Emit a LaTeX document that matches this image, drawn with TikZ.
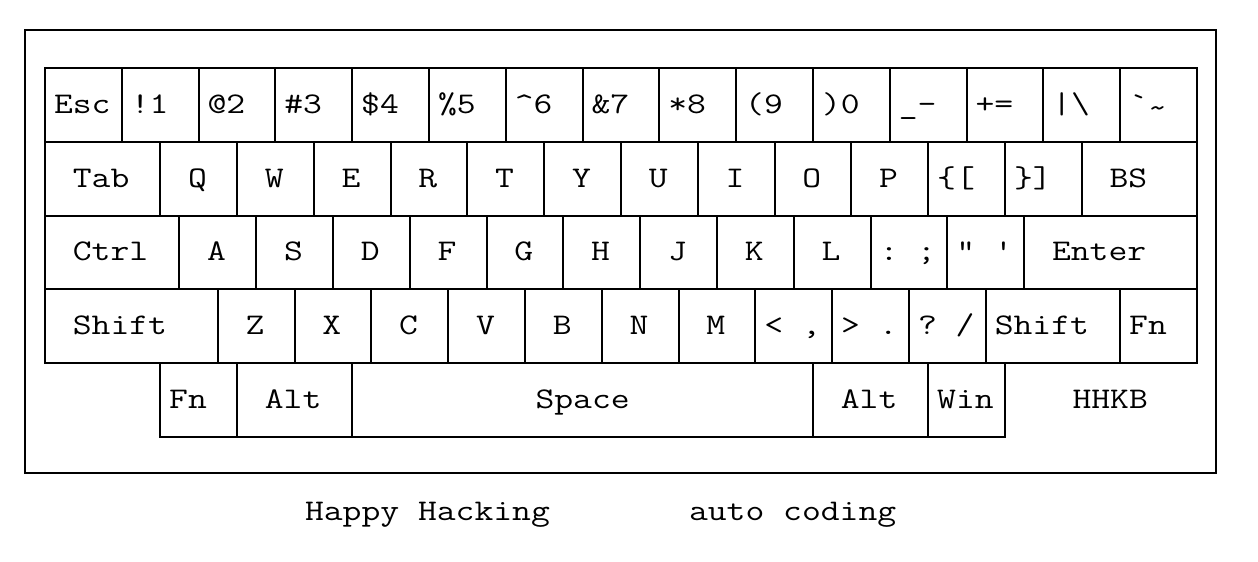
\documentclass[tikz,border=0pt]{standalone}
\usepackage{graphicx}
\usetikzlibrary{calc}
\newcommand\ks{\phantom{X}}
\newcommand\kt[1]{\scalebox{1.219}[1]{\fontsize{30pt}{36pt}\selectfont\ttfamily #1}}
\tikzset{
  keybox/.style={draw, line width=2pt, rectangle, anchor=north west, inner sep=0pt, outer sep=0pt, minimum height=73.8pt},
  keytext/.style={anchor=base west, inner sep=0pt, outer sep=0pt},
}
\newcommand\kk[5]{%
  \node[keybox, minimum width=#4pt] (#1) at (#2,#3) {};
  \node[keytext] (#1-t) at ($(#1.north west)+(9,45.3)$) {\kt{#5}};}
\begin{document}
\begin{tikzpicture}[x=1pt,y=-1pt]
\useasboundingbox (0,0) rectangle (1258,562);
\node[draw, line width=2pt, rectangle, anchor=north west, inner sep=0pt, outer sep=0pt, minimum width=1191pt, minimum height=443pt] (frame) at (25,30) {};
% row 1
\kk{esc}{45}{68}{76.8}{Esc}
\kk{k1}{121.8}{68}{76.8}{!1}
\kk{k2}{198.6}{68}{76.8}{@2}
\kk{k3}{275.4}{68}{76.8}{\#3}
\kk{k4}{352.2}{68}{76.8}{\$4}
\kk{k5}{429}{68}{76.8}{\%5}
\kk{k6}{505.8}{68}{76.8}{\textasciicircum 6}
\kk{k7}{582.6}{68}{76.8}{\&7}
\kk{k8}{659.4}{68}{76.8}{*8}
\kk{k9}{736.2}{68}{76.8}{(9}
\kk{k0}{813}{68}{76.8}{)0}
\kk{minus}{889.8}{68}{76.8}{\_-}
\kk{equal}{966.6}{68}{76.8}{+=}
\kk{bslash}{1043.4}{68}{76.8}{\textbar\textbackslash}
\kk{grave}{1120.2}{68}{76.8}{\textasciigrave\raisebox{-4pt}{\textasciitilde}}
% row 2
\kk{tab}{45}{141.8}{115.2}{\ks Tab}
\kk{q}{160.2}{141.8}{76.8}{\ks Q}
\kk{w}{237}{141.8}{76.8}{\ks W}
\kk{e}{313.8}{141.8}{76.8}{\ks E}
\kk{r}{390.6}{141.8}{76.8}{\ks R}
\kk{t}{467.4}{141.8}{76.8}{\ks T}
\kk{y}{544.2}{141.8}{76.8}{\ks Y}
\kk{u}{621}{141.8}{76.8}{\ks U}
\kk{i}{697.8}{141.8}{76.8}{\ks I}
\kk{o}{774.6}{141.8}{76.8}{\ks O}
\kk{p}{851.4}{141.8}{76.8}{\ks P}
\kk{lbrack}{928.2}{141.8}{76.8}{\{[}
\kk{rbrack}{1005}{141.8}{76.8}{\}]}
\kk{bs}{1081.8}{141.8}{115.2}{\ks BS}
% row 3
\kk{ctrl}{45}{215.6}{134.4}{\ks Ctrl}
\kk{a}{179.4}{215.6}{76.8}{\ks A}
\kk{s}{256.2}{215.6}{76.8}{\ks S}
\kk{d}{333}{215.6}{76.8}{\ks D}
\kk{f}{409.8}{215.6}{76.8}{\ks F}
\kk{g}{486.6}{215.6}{76.8}{\ks G}
\kk{h}{563.4}{215.6}{76.8}{\ks H}
\kk{j}{640.2}{215.6}{76.8}{\ks J}
\kk{k}{717}{215.6}{76.8}{\ks K}
\kk{l}{793.8}{215.6}{76.8}{\ks L}
\kk{semi}{870.6}{215.6}{76.8}{:\ks;}
\kk{quote}{947.4}{215.6}{76.8}{\textquotedbl\ks\textquotesingle}
\kk{enter}{1024.2}{215.6}{172.8}{\ks Enter}
% row 4
\kk{lshift}{45}{289.4}{172.8}{\ks Shift}
\kk{z}{217.8}{289.4}{76.8}{\ks Z}
\kk{x}{294.6}{289.4}{76.8}{\ks X}
\kk{c}{371.4}{289.4}{76.8}{\ks C}
\kk{v}{448.2}{289.4}{76.8}{\ks V}
\kk{b}{525}{289.4}{76.8}{\ks B}
\kk{n}{601.8}{289.4}{76.8}{\ks N}
\kk{m}{678.6}{289.4}{76.8}{\ks M}
\kk{comma}{755.4}{289.4}{76.8}{\textless\ks,}
\kk{period}{832.2}{289.4}{76.8}{\textgreater\ks.}
\kk{slash}{909}{289.4}{76.8}{?\ks/}
\kk{rshift}{985.8}{289.4}{134.4}{Shift}
\kk{fn}{1120.2}{289.4}{76.8}{Fn}
% row 5
\kk{lfn}{160.2}{363.2}{76.8}{Fn}
\kk{lalt}{237}{363.2}{115.2}{\ks Alt}
\node[keybox, minimum width=460.8pt] (space) at (352.2,363.2) {};
\node[keytext, anchor=base] (space-t) at ($(space.north)+(0,45.3)$) {\kt{Space}};
\kk{ralt}{813}{363.2}{115.2}{\ks Alt}
\kk{win}{928.2}{363.2}{76.8}{Win}
\node[keytext] (hhkb) at ($(win.north east)+(67.5,45.3)$) {\kt{HHKB}};
% caption
\node[keytext] (happy) at (305,520) {\kt{Happy Hacking}};
\node[keytext] (auto) at (689,520) {\kt{auto coding}};
\end{tikzpicture}
\end{document}
